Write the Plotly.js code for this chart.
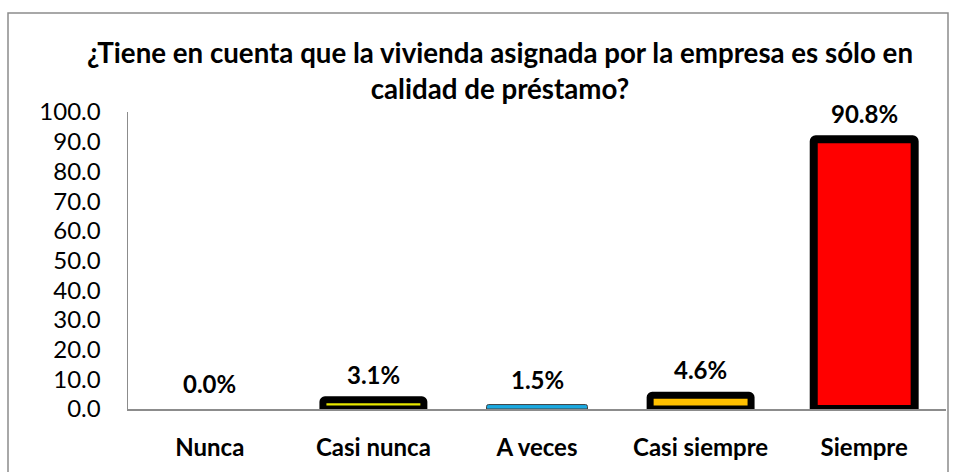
<!DOCTYPE html>
<html><head><meta charset="utf-8">
<script src="https://cdn.plot.ly/plotly-3.0.1.min.js"></script>
<style>body{margin:0;background:#fff}#c{width:956px;height:472px}</style>
</head><body><div id="c"></div>
<script>
var categories = ["Nunca", "Casi nunca", "A veces", "Casi siempre", "Siempre"];
var values = [0.0, 3.1, 1.5, 4.6, 90.8];
var labels = ["0.0%", "3.1%", "1.5%", "4.6%", "90.8%"];
var barColors = ["#FFFFFF", "#E8E800", "#1BA9E0", "#FFC000", "#FF0000"];
var lineColors = ["#000000", "#000000", "#404040", "#000000", "#000000"];
var lineWidths = [0, 7, 1, 7, 8];

var F = "Lato, 'Open Sans', sans-serif";
var L = 128, R = 10, T = 112, B = 63, W = 956 - L - R, H = 472 - T - B;
var trace = {
  type: "bar", x: categories, y: values,
  marker: {color: barColors, line: {color: lineColors, width: lineWidths}, cornerradius: 2},
  hoverinfo: "none"
};
var ann = categories.map(function(c, i){
  return {x: c, y: values[i], xref: "x", yref: "y", text: "<b>" + labels[i] + "</b>",
    showarrow: false, yanchor: "bottom", yshift: 9, font: {family: F, size: 24, color: "#000"}};
});
ann.push({xref: "paper", yref: "paper", x: (500-L)/W, y: (472-B-70)/H, xanchor: "center", yanchor: "middle",
  text: "<b>¿Tiene en cuenta que la vivienda asignada por la empresa es sólo en<br>calidad de préstamo?</b>",
  showarrow: false, font: {family: F, size: 27.7, color: "#000"}});
var layout = {
  width: 956, height: 472,
  margin: {l: L, r: R, t: T, b: B},
  paper_bgcolor: "#fff", plot_bgcolor: "#fff",
  showlegend: false, bargap: 0.383,
  xaxis: {showline: true, linecolor: "#8C8C8C", linewidth: 1.5, ticks: "", showgrid: false,
    ticklabelstandoff: 17, tickfont: {family: F, size: 24, color: "#000", weight: "bold"}},
  yaxis: {range: [0, 100], dtick: 10, tickformat: ".1f", showline: true, linecolor: "#8C8C8C", linewidth: 1.5,
    ticks: "", showgrid: false, zeroline: false, ticklabelstandoff: 21,
    tickfont: {family: F, size: 24, color: "#000"}},
  annotations: ann,
  shapes: [{type: "rect", xref: "paper", yref: "paper", x0: (8-L)/W, x1: (948-L)/W,
    y0: (472-B-480)/H, y1: (472-B-13)/H, line: {color: "#8C8C8C", width: 1.5}, fillcolor: "rgba(0,0,0,0)"}]
};
Plotly.newPlot("c", [trace], layout, {displayModeBar: false, staticPlot: true});
</script></body></html>
